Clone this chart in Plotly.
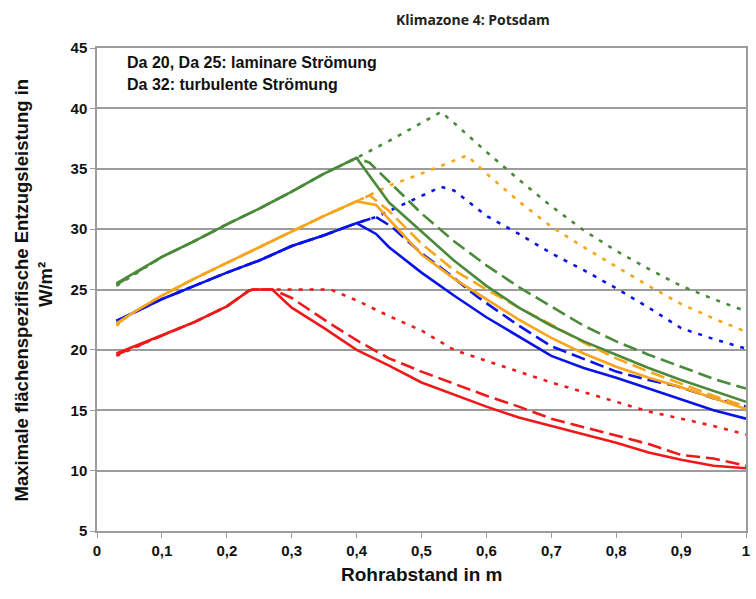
import plotly.graph_objects as go

# ---------------- data ----------------
x_tick_vals = [0, 0.1, 0.2, 0.3, 0.4, 0.5, 0.6, 0.7, 0.8, 0.9, 1.0]
x_tick_labels = ["0", "0,1", "0,2", "0,3", "0,4", "0,5", "0,6", "0,7", "0,8", "0,9", "1"]
y_tick_vals = [5, 10, 15, 20, 25, 30, 35, 40, 45]

# green
green_solid_x = [0.03, 0.1, 0.15, 0.2, 0.25, 0.3, 0.35, 0.4, 0.45, 0.5, 0.55, 0.6, 0.65, 0.7, 0.75, 0.8, 0.85, 0.9, 0.95, 1.0]
green_solid_y = [25.5, 27.7, 29.0, 30.4, 31.7, 33.1, 34.6, 35.9, 32.2, 29.8, 27.4, 25.3, 23.5, 22.0, 20.7, 19.6, 18.5, 17.5, 16.6, 15.7]
green_dash_x = [0.03, 0.1, 0.15, 0.2, 0.25, 0.3, 0.35, 0.4, 0.42, 0.45, 0.5, 0.55, 0.6, 0.65, 0.7, 0.75, 0.8, 0.85, 0.9, 0.95, 1.0]
green_dash_y = [25.4, 27.7, 29.0, 30.4, 31.7, 33.1, 34.6, 35.9, 35.5, 33.9, 31.3, 29.0, 27.0, 25.2, 23.6, 22.0, 20.7, 19.6, 18.6, 17.6, 16.8]
green_dot_x = [0.03, 0.1, 0.15, 0.2, 0.25, 0.3, 0.35, 0.4, 0.45, 0.5, 0.53, 0.55, 0.6, 0.65, 0.7, 0.75, 0.8, 0.85, 0.9, 0.95, 1.0]
green_dot_y = [25.3, 27.7, 29.0, 30.4, 31.7, 33.1, 34.6, 35.9, 37.3, 38.8, 39.7, 38.8, 36.4, 34.1, 31.9, 29.9, 28.2, 26.7, 25.3, 24.2, 23.2]

# orange
orange_solid_x = [0.03, 0.05, 0.1, 0.15, 0.2, 0.25, 0.3, 0.35, 0.4, 0.43, 0.45, 0.5, 0.55, 0.6, 0.65, 0.7, 0.75, 0.8, 0.85, 0.9, 0.95, 1.0]
orange_solid_y = [22.2, 22.9, 24.5, 25.9, 27.2, 28.5, 29.8, 31.1, 32.3, 32.0, 30.8, 27.9, 25.9, 24.2, 22.5, 21.0, 19.7, 18.6, 17.7, 16.9, 16.0, 15.1]
orange_dash_x = [0.03, 0.05, 0.1, 0.15, 0.2, 0.25, 0.3, 0.35, 0.4, 0.42, 0.45, 0.5, 0.55, 0.6, 0.65, 0.7, 0.75, 0.8, 0.85, 0.9, 0.95, 1.0]
orange_dash_y = [22.1, 22.9, 24.5, 25.9, 27.2, 28.5, 29.8, 31.1, 32.3, 32.8, 31.5, 28.8, 26.6, 25.0, 23.5, 22.1, 20.6, 19.3, 18.2, 17.2, 16.2, 15.3]
orange_dot_x = [0.03, 0.05, 0.1, 0.15, 0.2, 0.25, 0.3, 0.35, 0.4, 0.42, 0.45, 0.5, 0.55, 0.57, 0.6, 0.65, 0.7, 0.75, 0.8, 0.85, 0.9, 0.95, 1.0]
orange_dot_y = [22.0, 22.9, 24.5, 25.9, 27.2, 28.5, 29.8, 31.1, 32.3, 32.8, 33.6, 34.6, 35.7, 36.1, 34.6, 32.3, 30.2, 28.5, 26.9, 25.3, 23.8, 22.6, 21.5]

# blue
blue_solid_x = [0.03, 0.1, 0.15, 0.2, 0.25, 0.3, 0.35, 0.4, 0.43, 0.45, 0.5, 0.55, 0.6, 0.65, 0.7, 0.75, 0.8, 0.85, 0.9, 0.95, 1.0]
blue_solid_y = [22.4, 24.2, 25.3, 26.4, 27.4, 28.6, 29.5, 30.5, 29.6, 28.5, 26.4, 24.5, 22.7, 21.1, 19.5, 18.5, 17.7, 16.8, 15.9, 15.0, 14.3]
blue_dash_x = [0.03, 0.1, 0.15, 0.2, 0.25, 0.3, 0.35, 0.4, 0.43, 0.454, 0.5, 0.535, 0.586, 0.65, 0.7, 0.765, 0.8, 0.85, 0.893, 0.95, 1.0]
blue_dash_y = [22.4, 24.2, 25.3, 26.4, 27.4, 28.6, 29.5, 30.5, 31.0, 30.2, 28.0, 26.6, 24.4, 22.0, 20.3, 18.9, 18.2, 17.5, 17.0, 16.0, 15.3]
blue_dot_x = [0.03, 0.1, 0.15, 0.2, 0.25, 0.3, 0.35, 0.4, 0.43, 0.45, 0.5, 0.53, 0.55, 0.6, 0.65, 0.7, 0.75, 0.8, 0.85, 0.9, 0.95, 1.0]
blue_dot_y = [22.4, 24.2, 25.3, 26.4, 27.4, 28.6, 29.5, 30.5, 31.0, 31.5, 32.8, 33.5, 33.2, 31.1, 29.6, 28.0, 26.6, 25.1, 23.5, 21.8, 20.9, 20.1]

# red
red_solid_x = [0.03, 0.1, 0.15, 0.2, 0.234, 0.24, 0.27, 0.3, 0.35, 0.4, 0.45, 0.5, 0.55, 0.6, 0.65, 0.7, 0.75, 0.8, 0.85, 0.9, 0.95, 1.0]
red_solid_y = [19.7, 21.2, 22.3, 23.6, 24.9, 25.0, 25.0, 23.5, 21.8, 20.0, 18.7, 17.3, 16.3, 15.3, 14.4, 13.7, 13.0, 12.3, 11.5, 10.9, 10.4, 10.2]
red_dash_x = [0.03, 0.1, 0.15, 0.2, 0.234, 0.24, 0.27, 0.3, 0.35, 0.4, 0.45, 0.5, 0.55, 0.6, 0.65, 0.7, 0.75, 0.8, 0.85, 0.9, 0.95, 1.0]
red_dash_y = [19.6, 21.2, 22.3, 23.6, 24.9, 25.0, 25.0, 24.3, 22.5, 20.8, 19.3, 18.2, 17.2, 16.2, 15.3, 14.3, 13.6, 12.9, 12.2, 11.3, 11.0, 10.4]
red_dot_x = [0.03, 0.1, 0.15, 0.2, 0.234, 0.24, 0.3, 0.36, 0.4, 0.45, 0.5, 0.55, 0.6, 0.65, 0.7, 0.75, 0.8, 0.85, 0.9, 0.95, 1.0]
red_dot_y = [19.5, 21.2, 22.3, 23.6, 24.9, 25.0, 25.0, 25.0, 24.1, 22.8, 21.6, 20.0, 19.1, 18.2, 17.3, 16.5, 15.7, 14.9, 14.3, 13.7, 13.0]

# ---------------- styles ----------------
GREEN = "#4a8a3a"
ORANGE = "#f8a51c"
BLUE = "#0a14e8"
RED = "#f01818"
DOT = "4px,7px"
DASH = "14px,6px"
LW = 2.6

series = [
    (red_dot_x, red_dot_y, RED, DOT),
    (blue_dot_x, blue_dot_y, BLUE, DOT),
    (orange_dot_x, orange_dot_y, ORANGE, DOT),
    (green_dot_x, green_dot_y, GREEN, DOT),
    (red_dash_x, red_dash_y, RED, DASH),
    (blue_dash_x, blue_dash_y, BLUE, DASH),
    (orange_dash_x, orange_dash_y, ORANGE, DASH),
    (green_dash_x, green_dash_y, GREEN, DASH),
    (red_solid_x, red_solid_y, RED, "solid"),
    (blue_solid_x, blue_solid_y, BLUE, "solid"),
    (orange_solid_x, orange_solid_y, ORANGE, "solid"),
    (green_solid_x, green_solid_y, GREEN, "solid"),
]

fig = go.Figure()
for xs, ys, col, dash in series:
    fig.add_trace(go.Scatter(x=xs, y=ys, mode="lines",
                             line=dict(color=col, width=LW, dash=dash),
                             showlegend=False, hoverinfo="skip"))

AX_FONT = dict(family="Liberation Sans, Arial, sans-serif", size=15, color="#111111", weight="bold")
GRID = "#9c9c9c"

fig.update_layout(
    width=756, height=599,
    margin=dict(l=97, r=6, t=48, b=68),
    paper_bgcolor="white", plot_bgcolor="white",
    xaxis=dict(range=[0, 1], tickvals=x_tick_vals, ticktext=x_tick_labels,
               showgrid=False, zeroline=False, showline=True, linecolor=GRID, linewidth=1.5,
               mirror=True, ticks="outside", ticklen=5, tickcolor=GRID, tickfont=AX_FONT),
    yaxis=dict(range=[5, 45], tickvals=y_tick_vals,
               showgrid=True, gridcolor=GRID, gridwidth=1.5, zeroline=False,
               showline=True, linecolor=GRID, linewidth=1.5, mirror=True,
               ticks="outside", ticklen=5, tickcolor=GRID, tickfont=AX_FONT),
)

BOLD = dict(family="Liberation Sans, Arial, sans-serif", color="#111111", weight="bold")

annotations = [
    dict(text="Klimazone 4: Potsdam", x=0.579, y=1.058, xref="paper", yref="paper",
         xanchor="center", yanchor="middle", showarrow=False,
         font=dict(family="Open Sans, sans-serif", size=14, color="#222222", weight=700)),
    dict(text="Da 20, Da 25: laminare Strömung", x=0.043, y=0.969, xref="paper", yref="paper",
         xanchor="left", yanchor="middle", showarrow=False, font=dict(BOLD, size=16)),
    dict(text="Da 32: turbulente Strömung", x=0.043, y=0.925, xref="paper", yref="paper",
         xanchor="left", yanchor="middle", showarrow=False, font=dict(BOLD, size=16)),
    dict(text="Maximale flächenspezifische Entzugsleistung in", x=-0.1149, y=0.499,
         xref="paper", yref="paper", xanchor="center", yanchor="middle", textangle=-90,
         showarrow=False, font=dict(BOLD, size=18.5)),
    dict(text="W/m²", x=-0.0796, y=0.51, xref="paper", yref="paper",
         xanchor="center", yanchor="middle", textangle=-90,
         showarrow=False, font=dict(BOLD, size=18.5)),
    dict(text="Rohrabstand in m", x=0.5, y=-0.091, xref="paper", yref="paper",
         xanchor="center", yanchor="middle", showarrow=False, font=dict(BOLD, size=19)),
]
fig.update_layout(annotations=annotations)

fig.write_html("out.html", config={"displayModeBar": False},
               post_script="document.body.style.margin='0';document.body.style.padding='0';")
